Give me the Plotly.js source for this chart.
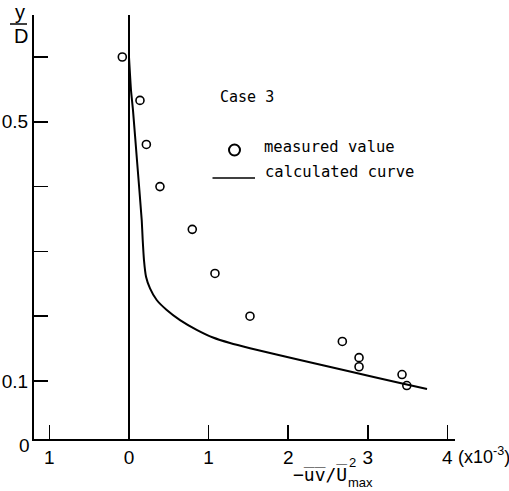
<!DOCTYPE html>
<html>
<head>
<meta charset="utf-8">
<script src="https://cdn.plot.ly/plotly-3.0.1.min.js"></script>
<style>html,body{margin:0;padding:0;background:#fff;}#chart{width:509px;height:491px;}</style>
</head>
<body>
<div id="chart"></div>
<script>
// measured values (x in units of 1e-3)
const measuredX = [-0.084, 0.138, 0.218, 0.389, 0.795, 1.08, 1.52, 2.68, 2.89, 2.89, 3.43, 3.49];
const measuredY = [0.600, 0.533, 0.465, 0.400, 0.334, 0.266, 0.200, 0.161, 0.136, 0.122, 0.110, 0.093];
// calculated curve
const curveX = [0.0, 0.025, 0.05, 0.10, 0.16, 0.172, 0.188, 0.214, 0.264, 0.348, 0.474, 0.641, 0.850, 1.055, 1.269, 1.520, 2.148, 2.776, 3.405, 3.744];
const curveY = [0.600, 0.549, 0.518, 0.441, 0.348, 0.318, 0.287, 0.261, 0.243, 0.225, 0.2096, 0.194, 0.179, 0.1671, 0.1586, 0.1506, 0.1324, 0.1147, 0.0969, 0.0877];
// ticks
const xTickVals = [-1, 0, 1, 2, 3, 4];
const xTickText = ["1", "0", "1", "2", "3", "4"];
const yTickVals = [0.1, 0.5];
const yTickText = ["0.1", "0.5"];
const yMinorTickVals = [0.2, 0.3, 0.4, 0.6];

const W = 509, H = 491, L = 34, R = 455, T = 15, B = 439;
const px = v => (v - L) / (R - L);
const py = v => (B - v) / (B - T);

const mono = "DejaVu Sans Mono";
const sans = "Liberation Sans, Arial, sans-serif";

const traces = [
  {
    x: curveX, y: curveY, mode: 'lines', type: 'scatter',
    line: {color: '#000', width: 2, shape: 'spline', smoothing: 0.5},
    showlegend: false, hoverinfo: 'skip'
  },
  {
    x: measuredX, y: measuredY, mode: 'markers', type: 'scatter',
    marker: {symbol: 'circle-open', size: 8, color: '#000', line: {width: 1.6, color: '#000'}},
    showlegend: false
  }
];

const tickStyle = {ticks: 'inside', ticklen: 14, tickwidth: 1.5, tickcolor: '#000'};

const layout = {
  width: W, height: H,
  margin: {l: L, r: W - R, t: T, b: H - B, pad: 0},
  paper_bgcolor: '#fff', plot_bgcolor: '#fff',
  showlegend: false,
  font: {family: sans, size: 19, color: '#000'},
  xaxis: Object.assign({
    range: [(L - 129) / 79.6, (R - 129) / 79.6],
    tickmode: 'array', tickvals: xTickVals, ticktext: xTickText,
    showline: true, linewidth: 2, linecolor: '#000',
    showgrid: false, zeroline: true, zerolinecolor: '#000', zerolinewidth: 2,
    tickfont: {family: sans, size: 19}
  }, tickStyle),
  yaxis: Object.assign({
    range: [0.1 + (381 - B) / 648, 0.1 + (381 - T) / 648],
    tickmode: 'array', tickvals: yTickVals, ticktext: yTickText,
    minor: Object.assign({tickmode: 'array', tickvals: yMinorTickVals, showgrid: false}, tickStyle),
    showline: true, linewidth: 2, linecolor: '#000',
    showgrid: false, zeroline: false,
    tickfont: {family: sans, size: 19}
  }, tickStyle),
  shapes: [
    // y/D fraction bar
    {type: 'line', xref: 'paper', yref: 'paper', x0: px(10), x1: px(27), y0: py(24), y1: py(24), line: {color: '#000', width: 1.5}},
    // legend symbols
    {type: 'circle', xref: 'paper', yref: 'paper', x0: px(229), x1: px(240), y0: py(155.5), y1: py(144.5), line: {color: '#000', width: 2}},
    {type: 'line', xref: 'paper', yref: 'paper', x0: px(212.5), x1: px(255), y0: py(178), y1: py(178), line: {color: '#000', width: 1.5}}
  ],
  annotations: [
    {xref: 'paper', yref: 'paper', x: px(20), y: py(12), text: 'y', showarrow: false, xanchor: 'center', yanchor: 'middle', font: {family: sans, size: 20}},
    {xref: 'paper', yref: 'paper', x: px(21), y: py(36), text: 'D', showarrow: false, xanchor: 'center', yanchor: 'middle', font: {family: sans, size: 20}},
    {xref: 'paper', yref: 'paper', x: px(32), y: py(445), text: '0', showarrow: false, xanchor: 'right', yanchor: 'middle', font: {family: sans, size: 19}},
    {xref: 'paper', yref: 'paper', x: px(218), y: py(97), text: 'Case 3', showarrow: false, xanchor: 'left', yanchor: 'middle', font: {family: mono, size: 15}},
    {xref: 'paper', yref: 'paper', x: px(262), y: py(147), text: 'measured value', showarrow: false, xanchor: 'left', yanchor: 'middle', font: {family: mono, size: 15.5}},
    {xref: 'paper', yref: 'paper', x: px(263), y: py(172), text: 'calculated curve', showarrow: false, xanchor: 'left', yanchor: 'middle', font: {family: mono, size: 15.5}},
    {xref: 'paper', yref: 'paper', x: px(456), y: py(455), text: '(x10<sup>-3</sup>)', showarrow: false, xanchor: 'left', yanchor: 'middle', font: {family: sans, size: 18}},
    {xref: 'paper', yref: 'paper', x: px(291), y: py(474), text: '\u2212u\u0305v\u0305/U\u0305', showarrow: false, xanchor: 'left', yanchor: 'middle', font: {family: mono, size: 18}},
    {xref: 'paper', yref: 'paper', x: px(347), y: py(462), text: '2', showarrow: false, xanchor: 'left', yanchor: 'middle', font: {family: sans, size: 13}},
    {xref: 'paper', yref: 'paper', x: px(346), y: py(482), text: 'max', showarrow: false, xanchor: 'left', yanchor: 'middle', font: {family: sans, size: 13}}
  ]
};

Plotly.newPlot('chart', traces, layout, {displayModeBar: false, staticPlot: true});
</script>
</body>
</html>
